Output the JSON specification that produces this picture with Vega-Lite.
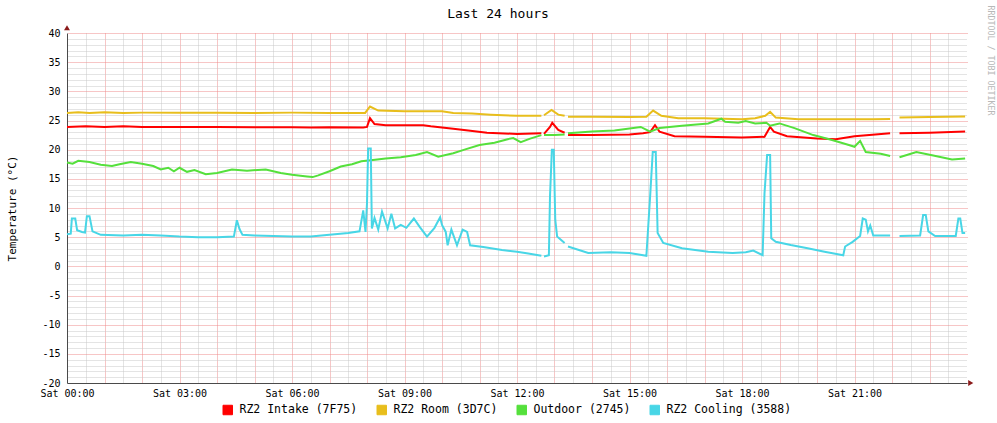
{
  "$schema": "https://vega.github.io/schema/vega-lite/v6.json",
  "width": 900,
  "height": 350,
  "autosize": {"type": "none"},
  "padding": {"left": 67, "top": 33, "right": 30, "bottom": 40},
  "background": "white",
  "config": {
    "view": {"stroke": null},
    "font": "DejaVu Sans Mono",
    "axis": {"labelFont": "DejaVu Sans Mono", "titleFont": "DejaVu Sans Mono", "labelColor": "black", "titleColor": "black"}
  },
  "title": {
    "text": "Last 24 hours",
    "font": "DejaVu Sans Mono",
    "fontSize": 13,
    "fontWeight": "normal",
    "color": "black",
    "anchor": "middle",
    "frame": "group",
    "dx": -19,
    "dy": 28,
    "offset": 12
  },
  "datasets": {
    "intake": [
      {"h":0,"v":23.9},{"h":0.5,"v":24.0},{"h":1,"v":23.9},{"h":1.5,"v":24.0},{"h":2,"v":23.9},{"h":3,"v":23.9},{"h":4,"v":23.9},{"h":5,"v":23.85},{"h":6,"v":23.85},{"h":6.5,"v":23.8},{"h":7,"v":23.85},{"h":7.9,"v":23.8},{"h":8.0,"v":23.9},{"h":8.08,"v":25.4},{"h":8.2,"v":24.4},{"h":8.5,"v":24.2},{"h":9,"v":24.2},{"h":9.5,"v":24.2},{"h":9.7,"v":24.0},{"h":10,"v":23.8},{"h":10.3,"v":23.6},{"h":10.7,"v":23.3},{"h":11.2,"v":22.9},{"h":12,"v":22.7},{"h":12.65,"v":22.8},{"h":12.7,"v":null},{"h":12.72,"v":22.7},{"h":12.88,"v":23.9},{"h":12.94,"v":24.6},{"h":13.1,"v":23.4},{"h":13.27,"v":22.9},{"h":13.31,"v":null},{"h":13.36,"v":22.5},{"h":14,"v":22.5},{"h":15,"v":22.6},{"h":15.36,"v":22.8},{"h":15.55,"v":23.0},{"h":15.68,"v":24.2},{"h":15.8,"v":23.1},{"h":16.2,"v":22.3},{"h":17,"v":22.2},{"h":18,"v":22.1},{"h":18.6,"v":22.2},{"h":18.75,"v":23.9},{"h":18.85,"v":23.1},{"h":19.2,"v":22.3},{"h":20,"v":21.9},{"h":20.5,"v":21.8},{"h":21,"v":22.3},{"h":21.95,"v":22.8},{"h":22.05,"v":null},{"h":22.2,"v":22.8},{"h":23,"v":22.9},{"h":23.95,"v":23.1}
    ],
    "room": [
      {"h":0,"v":26.3},{"h":0.3,"v":26.4},{"h":0.6,"v":26.3},{"h":1,"v":26.4},{"h":1.5,"v":26.3},{"h":2,"v":26.35},{"h":3,"v":26.35},{"h":4,"v":26.35},{"h":5,"v":26.3},{"h":6,"v":26.35},{"h":7,"v":26.3},{"h":7.95,"v":26.3},{"h":8.08,"v":27.4},{"h":8.3,"v":26.7},{"h":9,"v":26.6},{"h":10,"v":26.6},{"h":10.3,"v":26.3},{"h":10.8,"v":26.2},{"h":11.3,"v":26.0},{"h":12,"v":25.8},{"h":12.65,"v":25.8},{"h":12.7,"v":null},{"h":12.72,"v":25.9},{"h":12.92,"v":26.8},{"h":13.1,"v":26.0},{"h":13.27,"v":25.8},{"h":13.31,"v":null},{"h":13.36,"v":25.65},{"h":14,"v":25.65},{"h":15,"v":25.6},{"h":15.45,"v":25.65},{"h":15.63,"v":26.7},{"h":15.85,"v":25.8},{"h":16.3,"v":25.4},{"h":17,"v":25.4},{"h":18,"v":25.2},{"h":18.35,"v":25.4},{"h":18.62,"v":25.8},{"h":18.75,"v":26.5},{"h":18.9,"v":25.5},{"h":19.5,"v":25.2},{"h":20.5,"v":25.2},{"h":21.5,"v":25.2},{"h":21.95,"v":25.25},{"h":22.05,"v":null},{"h":22.2,"v":25.5},{"h":23,"v":25.6},{"h":23.95,"v":25.7}
    ],
    "outdoor": [
      {"h":0,"v":17.8},{"h":0.15,"v":17.6},{"h":0.3,"v":18.1},{"h":0.6,"v":17.9},{"h":0.9,"v":17.4},{"h":1.2,"v":17.2},{"h":1.4,"v":17.5},{"h":1.7,"v":17.9},{"h":2.0,"v":17.6},{"h":2.3,"v":17.2},{"h":2.5,"v":16.6},{"h":2.7,"v":16.9},{"h":2.85,"v":16.3},{"h":3.0,"v":16.9},{"h":3.2,"v":16.2},{"h":3.4,"v":16.5},{"h":3.7,"v":15.8},{"h":4.0,"v":16.0},{"h":4.4,"v":16.6},{"h":4.8,"v":16.4},{"h":5.3,"v":16.6},{"h":5.7,"v":16.0},{"h":6.0,"v":15.7},{"h":6.4,"v":15.4},{"h":6.55,"v":15.3},{"h":6.7,"v":15.6},{"h":7.0,"v":16.3},{"h":7.3,"v":17.1},{"h":7.6,"v":17.5},{"h":7.85,"v":18.0},{"h":8.1,"v":18.2},{"h":8.5,"v":18.5},{"h":8.9,"v":18.7},{"h":9.3,"v":19.1},{"h":9.6,"v":19.6},{"h":9.9,"v":18.8},{"h":10.3,"v":19.4},{"h":10.6,"v":20.0},{"h":11.0,"v":20.8},{"h":11.4,"v":21.2},{"h":11.75,"v":21.8},{"h":11.9,"v":22.0},{"h":12.1,"v":21.3},{"h":12.35,"v":21.9},{"h":12.65,"v":22.5},{"h":12.7,"v":null},{"h":12.72,"v":22.5},{"h":13.0,"v":22.5},{"h":13.27,"v":22.6},{"h":13.31,"v":null},{"h":13.36,"v":22.8},{"h":14.0,"v":23.1},{"h":14.6,"v":23.3},{"h":15.3,"v":23.9},{"h":15.55,"v":23.1},{"h":15.8,"v":23.7},{"h":16.4,"v":24.1},{"h":17.1,"v":24.5},{"h":17.45,"v":25.3},{"h":17.55,"v":24.8},{"h":17.9,"v":24.6},{"h":18.1,"v":24.9},{"h":18.35,"v":24.5},{"h":18.65,"v":24.6},{"h":18.75,"v":24.1},{"h":19.0,"v":24.5},{"h":19.4,"v":23.7},{"h":19.9,"v":22.5},{"h":20.4,"v":21.65},{"h":20.85,"v":20.8},{"h":21.0,"v":20.5},{"h":21.15,"v":21.5},{"h":21.3,"v":19.6},{"h":21.7,"v":19.3},{"h":21.95,"v":18.9},{"h":22.05,"v":null},{"h":22.2,"v":18.7},{"h":22.65,"v":19.6},{"h":23.1,"v":19.0},{"h":23.6,"v":18.3},{"h":23.95,"v":18.5}
    ],
    "cooling": [
      {"h":0,"v":5.5},{"h":0.1,"v":5.6},{"h":0.13,"v":8.2},{"h":0.22,"v":8.2},{"h":0.27,"v":6.2},{"h":0.4,"v":5.9},{"h":0.48,"v":5.8},{"h":0.53,"v":8.6},{"h":0.6,"v":8.6},{"h":0.68,"v":6.0},{"h":0.9,"v":5.4},{"h":1.5,"v":5.3},{"h":2.0,"v":5.4},{"h":2.5,"v":5.3},{"h":3.0,"v":5.1},{"h":3.5,"v":5.0},{"h":4.0,"v":5.0},{"h":4.45,"v":5.1},{"h":4.53,"v":7.9},{"h":4.6,"v":6.4},{"h":4.68,"v":5.4},{"h":5.0,"v":5.3},{"h":5.5,"v":5.2},{"h":6.0,"v":5.1},{"h":6.5,"v":5.1},{"h":7.0,"v":5.4},{"h":7.5,"v":5.7},{"h":7.8,"v":6.0},{"h":7.9,"v":9.6},{"h":7.96,"v":5.9},{"h":8.0,"v":10.8},{"h":8.03,"v":20.2},{"h":8.1,"v":20.2},{"h":8.13,"v":6.5},{"h":8.2,"v":8.3},{"h":8.3,"v":6.3},{"h":8.4,"v":9.4},{"h":8.55,"v":6.5},{"h":8.65,"v":9.0},{"h":8.75,"v":6.5},{"h":8.9,"v":7.1},{"h":9.05,"v":6.6},{"h":9.25,"v":8.2},{"h":9.4,"v":6.8},{"h":9.6,"v":5.1},{"h":9.8,"v":6.6},{"h":9.95,"v":8.4},{"h":10.0,"v":7.1},{"h":10.1,"v":5.9},{"h":10.15,"v":3.6},{"h":10.25,"v":6.3},{"h":10.4,"v":3.6},{"h":10.55,"v":6.3},{"h":10.67,"v":5.9},{"h":10.75,"v":3.6},{"h":11.1,"v":3.3},{"h":11.6,"v":2.8},{"h":12.0,"v":2.5},{"h":12.3,"v":2.2},{"h":12.65,"v":1.8},{"h":12.7,"v":null},{"h":12.72,"v":1.7},{"h":12.85,"v":1.9},{"h":12.88,"v":12.0},{"h":12.93,"v":20.0},{"h":12.98,"v":20.0},{"h":13.02,"v":8.0},{"h":13.07,"v":5.1},{"h":13.27,"v":4.0},{"h":13.31,"v":null},{"h":13.36,"v":3.4},{"h":13.9,"v":2.3},{"h":14.5,"v":2.4},{"h":15.0,"v":2.3},{"h":15.45,"v":1.8},{"h":15.55,"v":12.0},{"h":15.62,"v":19.6},{"h":15.7,"v":19.6},{"h":15.75,"v":5.7},{"h":15.9,"v":4.0},{"h":16.4,"v":3.1},{"h":17.1,"v":2.5},{"h":17.75,"v":2.3},{"h":18.1,"v":2.4},{"h":18.3,"v":2.7},{"h":18.55,"v":1.9},{"h":18.6,"v":12.5},{"h":18.67,"v":19.1},{"h":18.75,"v":19.1},{"h":18.78,"v":4.8},{"h":18.9,"v":4.2},{"h":19.3,"v":3.65},{"h":19.75,"v":3.1},{"h":20.2,"v":2.5},{"h":20.7,"v":1.9},{"h":20.75,"v":3.4},{"h":20.95,"v":4.2},{"h":21.15,"v":5.2},{"h":21.22,"v":8.2},{"h":21.3,"v":8.0},{"h":21.36,"v":6.0},{"h":21.42,"v":7.0},{"h":21.5,"v":5.3},{"h":21.95,"v":5.3},{"h":22.05,"v":null},{"h":22.2,"v":5.2},{"h":22.75,"v":5.3},{"h":22.83,"v":8.8},{"h":22.9,"v":8.8},{"h":22.97,"v":6.0},{"h":23.15,"v":5.2},{"h":23.7,"v":5.2},{"h":23.77,"v":8.2},{"h":23.82,"v":8.2},{"h":23.88,"v":5.7},{"h":23.95,"v":5.7}
    ]
  },
  "layer": [
    {
      "data": {"name": "cooling"},
      "mark": {"type": "point", "opacity": 0},
      "encoding": {
        "x": {"field": "h", "type": "quantitative", "scale": {"domain": [0, 24], "nice": false},
          "axis": {"orient": "bottom", "values": [0.5,1.5,2.5,3.5,4.5,5.5,6.5,7.5,8.5,9.5,10.5,11.5,12.5,13.5,14.5,15.5,16.5,17.5,18.5,19.5,20.5,21.5,22.5,23.5],
            "grid": true, "gridColor": "#c8c8c8", "gridDash": [1, 1], "gridWidth": 1, "labels": false, "ticks": false, "domain": false, "title": null}},
        "y": {"field": "v", "type": "quantitative", "scale": {"domain": [-20, 40], "nice": false, "zero": false},
          "axis": {"orient": "left", "values": [-19,-18,-17,-16,-14,-13,-12,-11,-9,-8,-7,-6,-4,-3,-2,-1,1,2,3,4,6,7,8,9,11,12,13,14,16,17,18,19,21,22,23,24,26,27,28,29,31,32,33,34,36,37,38,39],
            "grid": true, "gridColor": "#c8c8c8", "gridDash": [1, 1], "gridWidth": 1, "labels": false, "ticks": false, "domain": false, "title": null}}
      }
    },
    {
      "data": {"name": "cooling"},
      "mark": {"type": "point", "opacity": 0},
      "encoding": {
        "x": {"field": "h", "type": "quantitative",
          "axis": {"orient": "bottom", "values": [1,2,3,4,5,6,7,8,9,10,11,12,13,14,15,16,17,18,19,20,21,22,23],
            "grid": true, "gridColor": "#ee8c8c", "gridDash": [1, 1], "gridWidth": 1, "labels": false, "ticks": false, "domain": false, "title": null}},
        "y": {"field": "v", "type": "quantitative",
          "axis": {"orient": "right", "values": [-15,-10,-5,0,5,10,15,20,25,30,35,40],
            "grid": true, "gridColor": "#ee8c8c", "gridDash": [1, 1], "gridWidth": 1, "labels": false, "ticks": false, "domain": false,
            "title": "RRDTOOL / TOBI OETIKER", "titleAngle": 90, "titleAlign": "left", "titleBaseline": "middle",
            "titleX": 22, "titleY": -28, "titleFontSize": 8.3, "titleFontWeight": "normal", "titleColor": "#b8b8b8", "titleFont": "DejaVu Sans Mono"}}
      }
    },
    {
      "data": {"name": "intake"},
      "mark": {"type": "line", "strokeWidth": 2, "invalid": "break-paths-filter-domains"},
      "encoding": {
        "x": {"field": "h", "type": "quantitative",
          "axis": {"orient": "bottom", "values": [0,3,6,9,12,15,18,21], "labelExpr": "'Sat ' + (datum.value < 10 ? '0' : '') + datum.value + ':00'",
            "grid": false, "ticks": false, "domain": true, "domainColor": "#4a4a4a", "domainWidth": 1,
            "labelFontSize": 10, "labelPadding": 5, "labelFlush": false, "labelOverlap": false, "labelBound": false, "title": null}},
        "y": {"field": "v", "type": "quantitative",
          "axis": {"orient": "left", "values": [-20,-15,-10,-5,0,5,10,15,20,25,30,35,40], "labelExpr": "datum.value + ''",
            "grid": false, "ticks": false, "domain": true, "domainColor": "#4a4a4a", "domainWidth": 1,
            "labelFontSize": 10, "labelPadding": 7, "labelFlush": false, "labelOverlap": false, "labelBound": false,
            "title": "Temperature (°C)", "titleFontSize": 11, "titleFontWeight": "normal", "titlePadding": 24}},
        "color": {"datum": "RZ2 Intake (7F75)", "type": "nominal",
          "scale": {"domain": ["RZ2 Intake (7F75)", "RZ2 Room (3D7C)", "Outdoor (2745)", "RZ2 Cooling (3588)"],
            "range": ["#ff0000", "#e8be1c", "#55e03c", "#48d6e6"]},
          "legend": {"orient": "none", "legendX": 155, "legendY": 371, "direction": "horizontal", "title": null,
            "symbolType": "square", "symbolSize": 90, "symbolStrokeWidth": 1,
            "labelFont": "DejaVu Sans Mono", "labelFontSize": 11.5, "labelColor": "black", "labelOffset": 6,
            "columnPadding": 17, "padding": 0,
            "encode": {"symbols": {"update": {"fill": {"scale": "color", "field": "value"}, "stroke": {"value": "black"}, "fillOpacity": {"value": 1}, "strokeWidth": {"value": 1}, "opacity": {"value": 1}}}}}}
      }
    },
    {
      "data": {"name": "room"},
      "mark": {"type": "line", "strokeWidth": 2, "invalid": "break-paths-filter-domains"},
      "encoding": {
        "x": {"field": "h", "type": "quantitative", "axis": null},
        "y": {"field": "v", "type": "quantitative", "axis": null},
        "color": {"datum": "RZ2 Room (3D7C)", "type": "nominal"}
      }
    },
    {
      "data": {"name": "outdoor"},
      "mark": {"type": "line", "strokeWidth": 2, "invalid": "break-paths-filter-domains"},
      "encoding": {
        "x": {"field": "h", "type": "quantitative", "axis": null},
        "y": {"field": "v", "type": "quantitative", "axis": null},
        "color": {"datum": "Outdoor (2745)", "type": "nominal"}
      }
    },
    {
      "data": {"name": "cooling"},
      "mark": {"type": "line", "strokeWidth": 2, "invalid": "break-paths-filter-domains"},
      "encoding": {
        "x": {"field": "h", "type": "quantitative", "axis": null},
        "y": {"field": "v", "type": "quantitative", "axis": null},
        "color": {"datum": "RZ2 Cooling (3588)", "type": "nominal"}
      }
    },
    {
      "data": {"values": [{}]},
      "mark": {"type": "point", "shape": "triangle-right", "filled": true, "size": 35, "color": "#8b1a1a", "opacity": 1},
      "encoding": {
        "x": {"datum": 24.1, "type": "quantitative", "axis": null},
        "y": {"datum": -20, "type": "quantitative", "axis": null}
      }
    },
    {
      "data": {"values": [{}]},
      "mark": {"type": "point", "shape": "triangle-up", "filled": true, "size": 35, "color": "#8b1a1a", "opacity": 1},
      "encoding": {
        "x": {"datum": 0, "type": "quantitative", "axis": null},
        "y": {"datum": 40.9, "type": "quantitative", "axis": null}
      }
    }
  ],
  "resolve": {"axis": {"x": "independent", "y": "independent"}}
}
